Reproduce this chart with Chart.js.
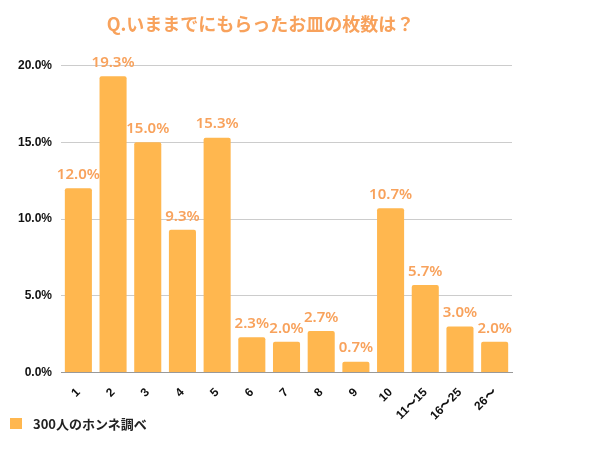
<!DOCTYPE html>
<html>
<head>
<meta charset="utf-8">
<script src="https://cdn.jsdelivr.net/npm/chart.js@4"></script>
<style>
  html, body { margin: 0; padding: 0; background: #fff; }
  #wrap { position: relative; width: 600px; height: 450px; }
  #footer {
    position: absolute; left: 10px; top: 414px;
    font-family: "Noto Sans CJK JP", sans-serif; font-weight: bold;
    font-size: 13px; color: #222; display: flex; align-items: center;
  }
  #footer .icon { width: 12px; height: 11px; background: #ffb74f; margin-right: 11px; }
</style>
</head>
<body>
<div id="wrap">
  <canvas id="chart" width="600" height="450"></canvas>
  <div id="footer"><span class="icon"></span>300人のホンネ調べ</div>
</div>
<script>
// Data
const categories = ['1', '2', '3', '4', '5', '6', '7', '8', '9', '10', '11〜15', '16〜25', '26〜'];
const percentages = [12.0, 19.3, 15.0, 9.3, 15.3, 2.3, 2.0, 2.7, 0.7, 10.7, 5.7, 3.0, 2.0];
const yTicks = [0, 5, 10, 15, 20];

const barColor = '#ffb74f';
const labelColor = '#f8a25c';
const tickFont = '"Liberation Sans", Arial, sans-serif';

// Value labels above bars
const valueLabels = {
  id: 'valueLabels',
  afterDatasetsDraw(chart) {
    const ctx = chart.ctx;
    const meta = chart.getDatasetMeta(0);
    ctx.save();
    ctx.font = '600 15px "Noto Sans", sans-serif';
    ctx.fillStyle = labelColor;
    ctx.textAlign = 'center';
    ctx.textBaseline = 'bottom';
    meta.data.forEach((bar, i) => {
      ctx.fillText(percentages[i].toFixed(1) + '%', bar.x, bar.y - 6);
    });
    ctx.restore();
  }
};

new Chart(document.getElementById('chart').getContext('2d'), {
  type: 'bar',
  data: {
    labels: categories,
    datasets: [{
      data: percentages,
      backgroundColor: barColor,
      borderRadius: { topLeft: 2, topRight: 2 },
      borderSkipped: 'bottom',
      barPercentage: 0.78,
      categoryPercentage: 1
    }]
  },
  options: {
    responsive: false,
    animation: false,
    layout: { padding: { top: 0, right: 88, bottom: 22, left: 9 } },
    scales: {
      x: {
        grid: { display: false },
        border: { color: '#999', width: 1 },
        ticks: {
          color: '#111',
          maxRotation: 45,
          minRotation: 45,
          padding: 5,
          font: { family: tickFont, weight: 'bold', size: 12 }
        }
      },
      y: {
        min: 0,
        max: 20,
        afterBuildTicks: axis => { axis.ticks = yTicks.map(v => ({ value: v })); },
        grid: { color: '#cccccc', drawTicks: false },
        border: { display: false },
        ticks: {
          color: '#111',
          padding: 9,
          callback: v => v.toFixed(1) + '%',
          font: { family: tickFont, weight: 'bold', size: 12 }
        }
      }
    },
    plugins: {
      legend: { display: false },
      tooltip: { enabled: false },
      title: {
        display: true,
        text: 'Q.いままでにもらったお皿の枚数は？',
        color: '#f8a25c',
        font: { family: '"Noto Sans CJK JP", sans-serif', weight: 'bold', size: 18 },
        padding: { top: 13, bottom: 31 }
      }
    }
  },
  plugins: [valueLabels]
});
</script>
</body>
</html>
